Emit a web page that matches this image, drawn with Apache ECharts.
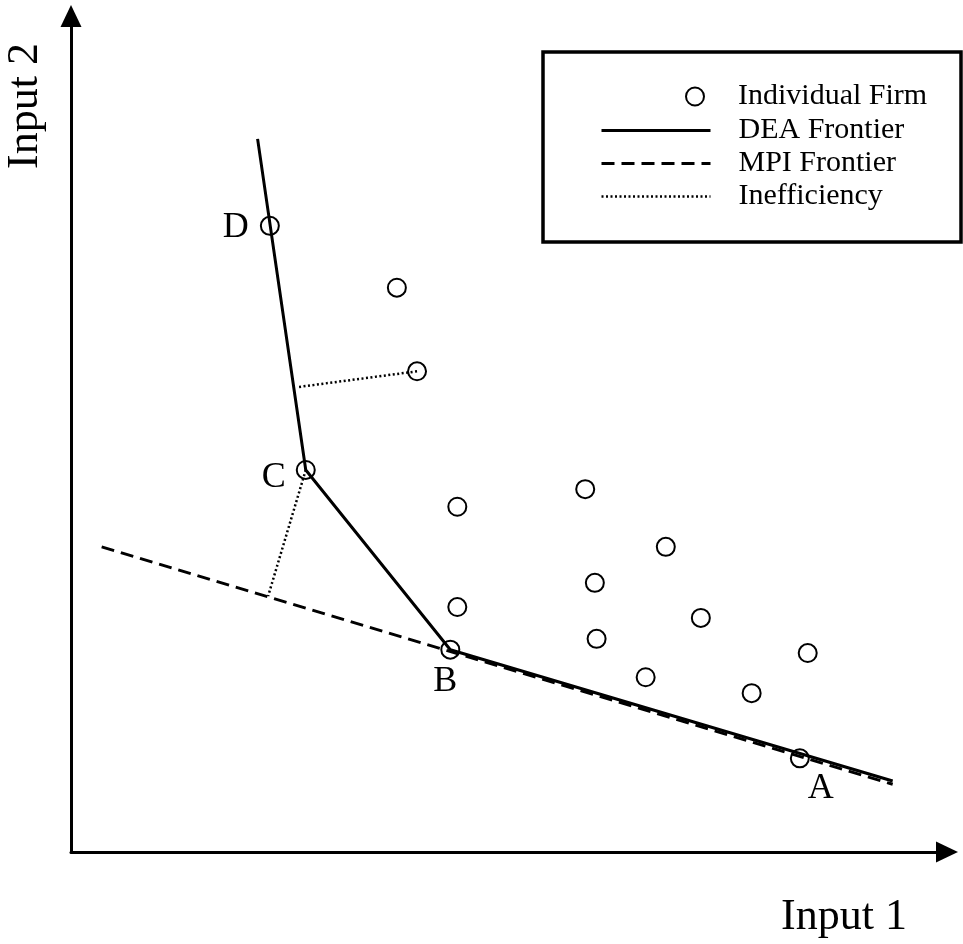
<!DOCTYPE html>
<html>
<head>
<meta charset="utf-8">
<script src="https://cdn.jsdelivr.net/npm/echarts@6/dist/echarts.min.js"></script>
<style>
  html, body { margin: 0; padding: 0; background: #fff; }
  #chart { width: 963px; height: 944px; }
</style>
</head>
<body>
<div id="chart"></div>
<script>
// firms (input 1, input 2) and their labels
var firmX = [22.7, 37.2, 39.5, 26.8, 44.1, 58.7, 67.9, 59.8, 44.1, 60.0, 71.9, 43.3, 65.6, 77.7, 84.1, 83.2];
var firmY = [74.9, 67.5, 57.5, 45.7, 41.3, 43.4, 36.5, 32.2, 29.3, 25.5, 28.0, 24.2, 20.9, 19.0, 23.8, 11.2];
var firmLabels = ['D', '', '', 'C', '', '', '', '', '', '', '', 'B', '', '', '', 'A'];

// DEA frontier (piecewise through C and B)
var deaX = [21.3, 26.8, 43.3, 93.8];
var deaY = [85.3, 45.7, 24.2, 8.5];

// MPI frontier
var mpiX = [3.5, 93.8];
var mpiY = [36.5, 8.1];

// inefficiency projections
var ineff1X = [39.5, 25.8];
var ineff1Y = [57.5, 55.6];
var ineff2X = [26.8, 22.5];
var ineff2Y = [45.7, 30.6];

var SERIF = '"Liberation Serif", "Times New Roman", serif';

function pairs(xs, ys) {
  return xs.map(function (x, i) { return [x, ys[i]]; });
}

var labelPos = {
  D: { position: 'left', distance: 11, offset: [0, 2] },
  C: { position: 'left', distance: 10, offset: [0, 8] },
  B: { position: 'bottom', distance: 4, offset: [-5, 0] },
  A: { position: 'bottom', distance: 2, offset: [21, 0] }
};

var firmData = firmX.map(function (x, i) {
  var item = { value: [x, firmY[i]] };
  var l = firmLabels[i];
  if (l) {
    item.label = Object.assign({
      show: true,
      formatter: l,
      color: '#000',
      fontFamily: SERIF,
      fontSize: 36
    }, labelPos[l]);
  }
  return item;
});

var noDot = { opacity: 0 };

var myChart = echarts.init(document.getElementById('chart'));
var option = {
  backgroundColor: '#fff',
  animation: false,
  grid: {
    left: 71,
    right: 16,
    top: 16,
    bottom: 92,
    outerBoundsMode: 'none'
  },
  graphic: [{
    type: 'rect',
    shape: { x: 543, y: 52, width: 418, height: 190 },
    style: { fill: 'none', stroke: '#000', lineWidth: 3.5 },
    z: 10
  }],
  legend: [{
    data: ['Individual Firm'],
    left: 685,
    top: 80,
    padding: 0,
    itemWidth: 76,
    itemHeight: 18,
    textStyle: { fontFamily: SERIF, fontSize: 30, color: '#000', lineHeight: 33 }
  }, {
    orient: 'vertical',
    left: 600,
    top: 114,
    padding: 0,
    itemGap: 0,
    itemWidth: 109,
    itemHeight: 14,
    textStyle: { fontFamily: SERIF, fontSize: 30, color: '#000', lineHeight: 33, padding: [0, 0, 0, 23] },
    data: [
      { name: 'DEA Frontier', itemStyle: noDot, lineStyle: { width: 3, type: 'solid' } },
      { name: 'MPI Frontier', itemStyle: noDot, lineStyle: { width: 3, type: [13, 7] } },
      { name: 'Inefficiency', itemStyle: noDot, lineStyle: { width: 2.5, type: [2, 2.5] } }
    ]
  }],
  xAxis: {
    type: 'value',
    min: 0,
    max: 100,
    name: 'Input 1',
    nameLocation: 'end',
    nameGap: -40,
    nameTextStyle: {
      fontFamily: SERIF, fontSize: 44, color: '#000',
      align: 'right', verticalAlign: 'top', padding: [43, 0, 0, 0]
    },
    axisLine: {
      show: true,
      symbol: ['none', 'triangle'],
      symbolSize: [21, 22],
      lineStyle: { color: '#000', width: 3 }
    },
    axisTick: { show: false },
    axisLabel: { show: false },
    splitLine: { show: false }
  },
  yAxis: {
    type: 'value',
    min: 0,
    max: 100,
    name: 'Input 2',
    nameLocation: 'end',
    nameRotate: 90,
    nameGap: -27,
    nameTextStyle: {
      fontFamily: SERIF, fontSize: 44, color: '#000',
      align: 'right', verticalAlign: 'bottom', padding: [0, 0, 24, 0]
    },
    axisLine: {
      show: true,
      symbol: ['none', 'triangle'],
      symbolSize: [21, 22],
      lineStyle: { color: '#000', width: 3 }
    },
    axisTick: { show: false },
    axisLabel: { show: false },
    splitLine: { show: false }
  },
  series: [{
    name: 'DEA Frontier',
    type: 'line',
    data: pairs(deaX, deaY),
    symbol: 'none',
    lineStyle: { color: '#000', width: 3 },
    itemStyle: { color: '#000' },
    z: 3
  }, {
    name: 'MPI Frontier',
    type: 'line',
    data: pairs(mpiX, mpiY),
    symbol: 'none',
    lineStyle: { color: '#000', width: 3, type: [13, 7] },
    itemStyle: { color: '#000' },
    z: 2
  }, {
    name: 'Inefficiency',
    type: 'line',
    data: pairs(ineff1X, ineff1Y),
    symbol: 'none',
    lineStyle: { color: '#000', width: 2.5, type: [2, 2.5] },
    itemStyle: { color: '#000' },
    z: 2
  }, {
    name: 'Inefficiency',
    type: 'line',
    data: pairs(ineff2X, ineff2Y),
    symbol: 'none',
    lineStyle: { color: '#000', width: 2.5, type: [2, 2.5] },
    itemStyle: { color: '#000' },
    z: 2
  }, {
    name: 'Individual Firm',
    type: 'scatter',
    data: firmData,
    symbol: 'circle',
    symbolSize: 18,
    itemStyle: { color: 'rgba(255,255,255,0)', borderColor: '#000', borderWidth: 2, opacity: 1 },
    z: 4
  }]
};
myChart.setOption(option);
window.addEventListener('resize', function () { myChart.resize(); });
</script>
</body>
</html>
